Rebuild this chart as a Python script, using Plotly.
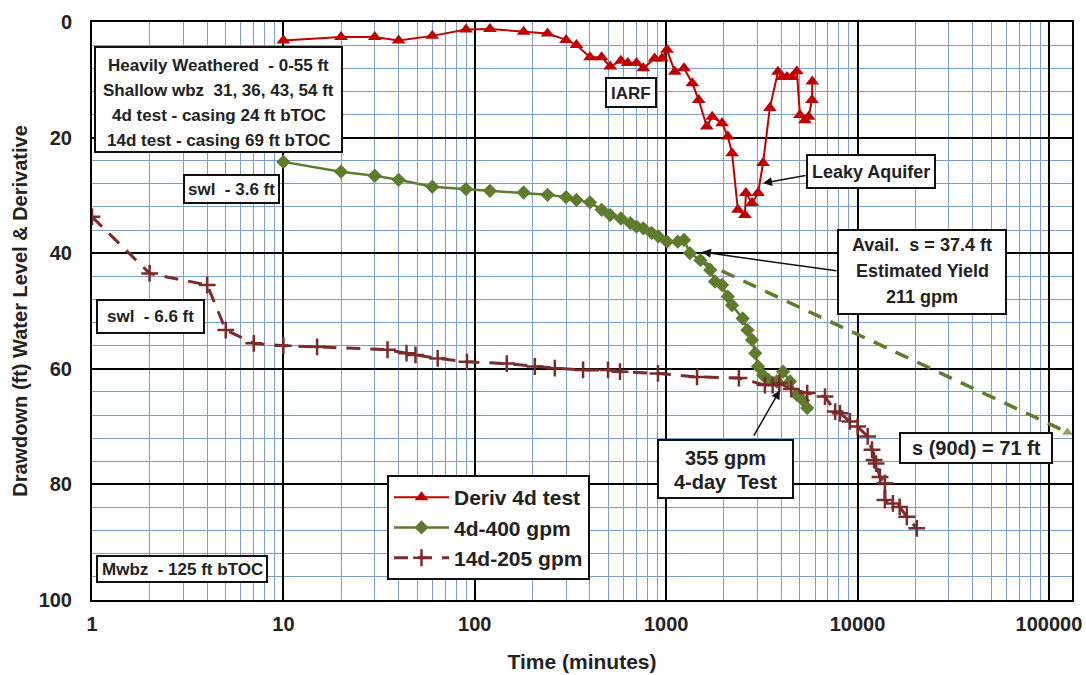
import math
import plotly.graph_objects as go

# ---------------- data ----------------
t_deriv = [10, 20, 30, 40, 60, 90, 120, 180, 240, 300, 340, 400, 460, 510, 580, 630, 700, 760,
           870, 950, 1010, 1110, 1240, 1370, 1480, 1630, 1740, 1960, 2100, 2210, 2370, 2580, 2610,
           2810, 3020, 3210, 3480, 3840, 4050, 4280, 4550, 4820, 5000, 5310, 5550, 5780, 5800]
s_deriv = [3.2, 2.6, 2.6, 3.2, 2.4, 1.3, 1.2, 1.7, 2.0, 3.1, 4.0, 6.1, 6.1, 7.7, 6.7, 7.1, 7.1, 8.0,
           6.3, 6.3, 4.8, 8.6, 8.0, 10.6, 13.5, 18.1, 16.4, 17.5, 19.8, 22.7, 32.5, 33.4, 29.6,
           31.3, 29.6, 24.4, 14.9, 8.6, 9.5, 9.5, 9.5, 8.5, 16.1, 17.0, 16.4, 13.5, 10.3]

t_4d = [10, 20, 30, 40, 60, 90, 120, 180, 240, 300, 340, 400, 460, 510, 580, 650, 700, 760,
        840, 910, 1010, 1150, 1240, 1330, 1510, 1700, 1800, 1960, 2100, 2210, 2510, 2660, 2810,
        2920, 3020, 3210, 3420, 3780, 4080, 4440, 4820, 5200, 5460]
s_4d = [24.2, 25.9, 26.6, 27.3, 28.5, 28.9, 29.2, 29.5, 29.9, 30.3, 30.8, 31.2, 32.5, 33.4, 34.0,
        34.8, 35.4, 35.7, 36.5, 37.1, 38.0, 38.0, 37.7, 40.0, 41.2, 42.9, 44.9, 45.5, 47.5, 49.0,
        51.3, 53.3, 55.0, 57.3, 59.6, 61.1, 61.9, 62.2, 60.5, 62.2, 64.5, 65.5, 66.8]

t_14d = [1, 2, 4, 5, 7, 10, 15, 35, 44, 49, 64, 91, 147, 206, 262, 368, 497, 574, 906, 1450,
         2400, 3280, 3600, 3900, 4500, 5460, 6760, 7640, 8100, 9130, 10000, 11300, 11900, 12200,
         12500, 13100, 13900, 13900, 15300, 16600, 18100, 20400]
s_14d = [33.7, 43.5, 45.5, 53.3, 55.6, 56.0, 56.2, 56.7, 57.3, 57.6, 58.2, 58.8, 59.1, 59.6, 59.9,
         60.2, 60.2, 60.5, 60.8, 61.4, 61.6, 62.8, 62.8, 62.5, 63.5, 64.2, 64.8, 67.4, 67.7, 69.1,
         70.0, 71.7, 74.0, 75.8, 76.4, 78.7, 79.8, 82.7, 83.3, 83.9, 85.6, 87.6]

t_proj = [1500, 125000]
s_proj = [41.3, 71.0]

x_major = [1, 10, 100, 1000, 10000, 100000]
x_labels = ["1", "10", "100", "1000", "10000", "100000"]
y_major = [0, 20, 40, 60, 80, 100]

# ---------------- styles ----------------
RED = "#C00000"
GREEN = "#5E7B2E"
BROWN = "#7A2B2B"
GRID = "#7F9EC4"
FONT = "Liberation Sans, Arial, sans-serif"

L, R, T, B = 92, 1072, 22, 600
W, H = 1086, 675


def px(xp):
    return (xp - L) / (R - L)


def py(yp):
    return (B - yp) / (B - T)


fig = go.Figure()
fig.add_trace(go.Scatter(x=t_deriv, y=s_deriv, name="Deriv 4d test", mode="lines+markers",
                         line=dict(color=RED, width=2),
                         marker=dict(symbol="triangle-up", size=12, color=RED),
                         legendgroup="a"))
fig.add_trace(go.Scatter(x=t_4d, y=s_4d, name="4d-400 gpm", mode="lines+markers",
                         line=dict(color=GREEN, width=2.5),
                         marker=dict(symbol="diamond", size=11, color=GREEN),
                         legendgroup="b"))
fig.add_trace(go.Scatter(x=t_14d, y=s_14d, name="14d-205 gpm", mode="lines+markers",
                         line=dict(color=BROWN, width=3, dash="14px,10px"),
                         marker=dict(symbol="cross-thin", size=12, color=BROWN,
                                     line=dict(color=BROWN, width=2.5)),
                         legendgroup="c"))
fig.add_trace(go.Scatter(x=t_proj, y=s_proj, mode="lines+markers", showlegend=False,
                         line=dict(color=GREEN, width=3.5, dash="14px,10px"),
                         marker=dict(symbol=["circle", "triangle-up"], size=[0, 11], color=GREEN)))

x_minor = [m * 10 ** k for k in range(0, 6) for m in range(2, 10) if m * 10 ** k < 132000]

fig.update_xaxes(type="log", range=[0, math.log10(132000)],
                 tickmode="array", tickvals=x_major, ticktext=x_labels,
                 showgrid=True, gridcolor="black", gridwidth=2,
                 minor=dict(tickmode="array", tickvals=x_minor, showgrid=True,
                            gridcolor=GRID, gridwidth=1, ticks=""),
                 showline=True, mirror=True, linecolor="black", linewidth=2,
                 ticks="", ticklabelstandoff=5,
                 tickfont=dict(family=FONT, size=20, color="#222", weight="bold"),
                 title=dict(text="Time (minutes)", standoff=20,
                            font=dict(family=FONT, size=21, color="#222", weight="bold")),
                 zeroline=False)
fig.update_yaxes(range=[100, 0], tickmode="array", tickvals=y_major,
                 showgrid=True, gridcolor="black", gridwidth=2,
                 minor=dict(dtick=4, tick0=0, showgrid=True, gridcolor=GRID, gridwidth=1, ticks=""),
                 showline=True, mirror=True, linecolor="black", linewidth=2,
                 ticks="", ticklabelstandoff=14,
                 tickfont=dict(family=FONT, size=20, color="#222", weight="bold"),
                 title=dict(text="Drawdown (ft) Water Level & Derivative", standoff=6,
                            font=dict(family=FONT, size=20, color="#222", weight="bold")),
                 zeroline=False)

shapes = []
annotations = []


def box(x0, y0, x1, y1):
    shapes.append(dict(type="rect", xref="paper", yref="paper",
                       x0=px(x0), x1=px(x1), y0=py(y1), y1=py(y0),
                       fillcolor="white", line=dict(color="#111", width=2), layer="above"))


def text(xc, yc, s, size=17):
    annotations.append(dict(xref="paper", yref="paper", x=px(xc), y=py(yc), text="<b>" + s + "</b>",
                            showarrow=False, xanchor="center", yanchor="middle",
                            font=dict(family=FONT, size=size, color="#222")))


def arrow(xd, yd, ax, ay):
    annotations.append(dict(xref="x", yref="y", x=math.log10(xd), y=yd, text="",
                            showarrow=True, arrowhead=2, arrowsize=1.2, arrowwidth=1.5,
                            arrowcolor="#111", ax=ax, ay=ay, axref="pixel", ayref="pixel",
                            standoff=0, startstandoff=0))


# Info box
box(95, 47, 342, 152)
text(218.5, 65, "Heavily Weathered  - 0-55 ft", 17)
text(218.5, 90, "Shallow wbz  31, 36, 43, 54 ft", 17)
text(218.5, 115, "4d test - casing 24 ft bTOC", 17)
text(218.5, 140, "14d test - casing 69 ft bTOC", 17)

box(184, 175, 279, 203)
text(231.5, 189.5, "swl  - 3.6 ft", 17)

box(97, 300, 204, 333)
text(150.5, 316.5, "swl  - 6.6 ft", 17)

box(97, 556, 267, 582)
text(182, 569.5, "Mwbz  - 125 ft bTOC", 17)

box(606, 78, 656, 107)
text(631, 93, "IARF", 17)

box(807, 155, 935, 188)
text(871, 172, "Leaky Aquifer", 18)
arrow(3207, 27.9, 44, -8)

box(838, 230, 1006, 314)
text(922, 245, "Avail.  s = 37.4 ft", 18)
text(922, 271, "Estimated Yield", 18)
text(922, 297, "211 gpm", 18)
arrow(1538, 39.8, 136, 19)

box(658, 440, 793, 498)
text(725.5, 458, "355 gpm", 20)
text(725.5, 482, "4-day  Test", 20)
arrow(3933, 63.7, -27, 47)

box(900, 433, 1052, 463)
text(976, 448, "s (90d) = 71 ft", 20)

fig.update_layout(
    width=W, height=H,
    margin=dict(l=L, r=W - R, t=T, b=H - B, autoexpand=False),
    paper_bgcolor="white", plot_bgcolor="white",
    shapes=shapes, annotations=annotations,
    showlegend=True,
    legend=dict(x=px(387), y=py(475), xanchor="left", yanchor="top",
                bgcolor="white", bordercolor="#111", borderwidth=2,
                font=dict(family=FONT, size=21, color="#222", weight="bold"),
                tracegroupgap=11, itemwidth=55, traceorder="normal"),
)

fig.write_html("out.html")
